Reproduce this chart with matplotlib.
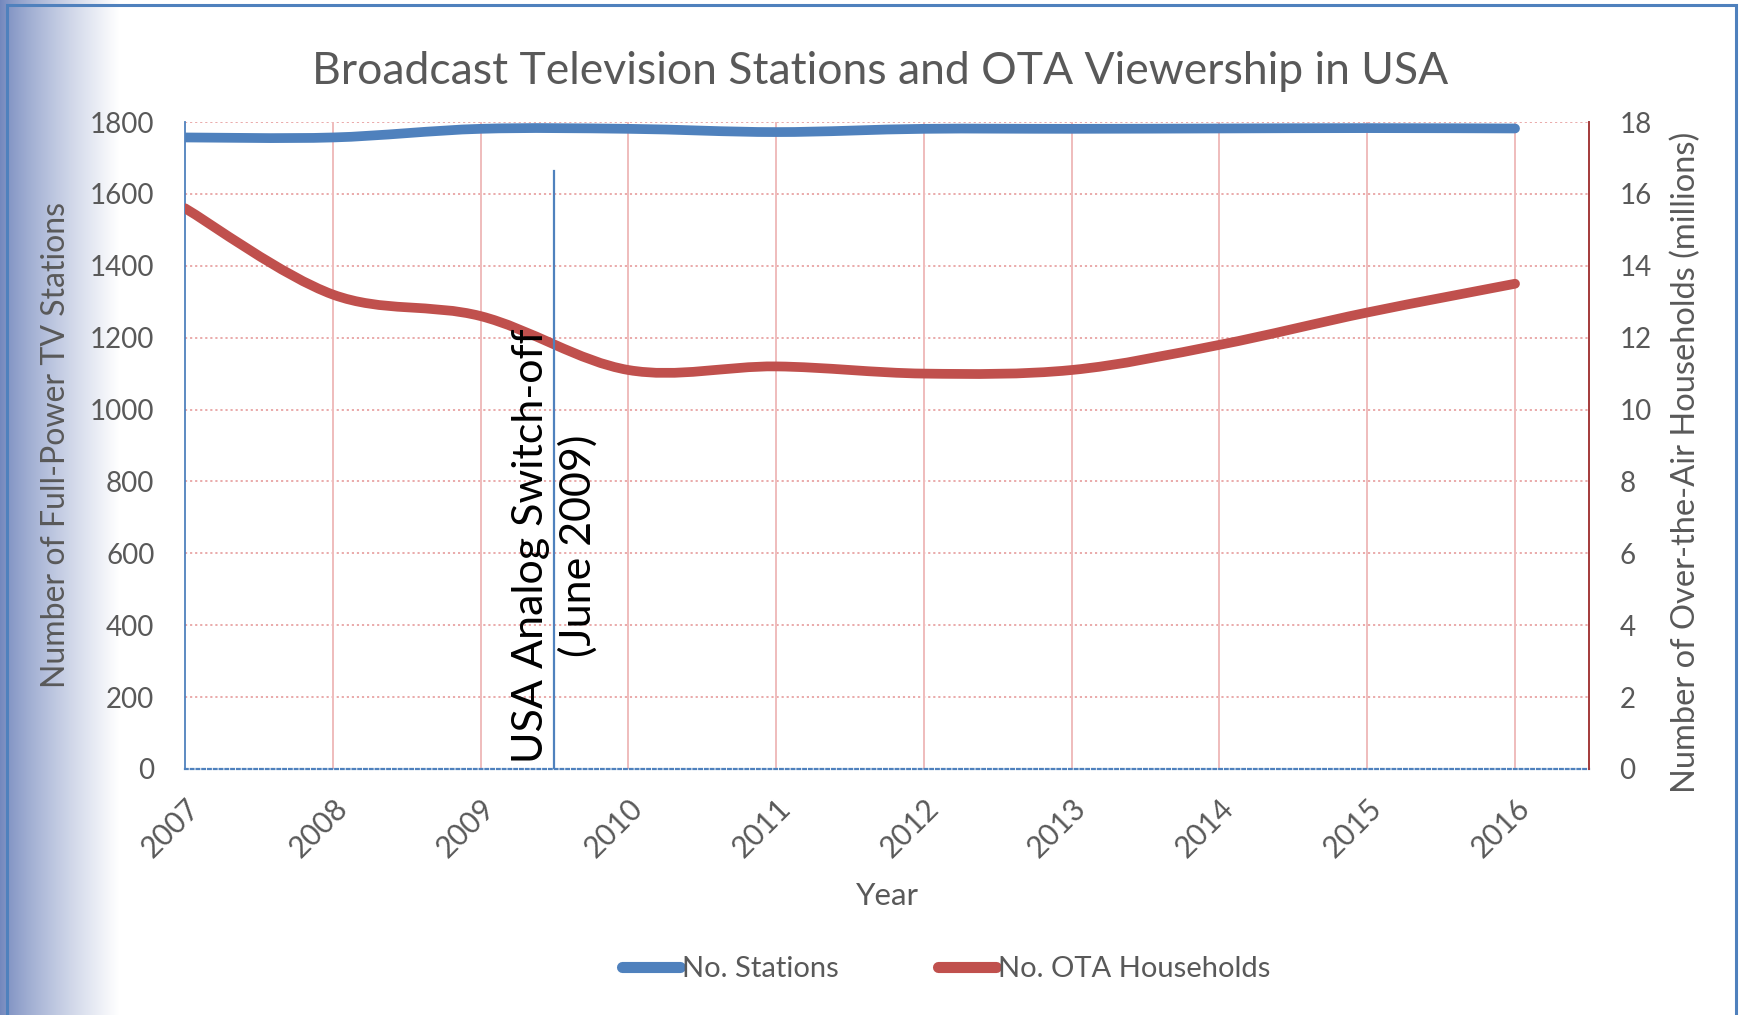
import matplotlib
matplotlib.use("Agg")
import matplotlib.pyplot as plt
import numpy as np
from matplotlib.path import Path
from matplotlib.patches import PathPatch, Rectangle
from matplotlib.lines import Line2D

plt.rcParams['font.family'] = ['Lato', 'DejaVu Sans']

years = [2007, 2008, 2009, 2010, 2011, 2012, 2013, 2014, 2015, 2016]
stations = [1757, 1757, 1781, 1781, 1772, 1781, 1781, 1782, 1783, 1782]
ota_households = [15.6, 13.2, 12.6, 11.1, 11.2, 11.0, 11.1, 11.8, 12.7, 13.5]
switch_off_year = 2009.5
left_ticks = [0, 200, 400, 600, 800, 1000, 1200, 1400, 1600, 1800]
right_ticks = [0, 2, 4, 6, 8, 10, 12, 14, 16, 18]

grey = '#595959'
blue = '#4f81bd'
red = '#c0504d'


def smooth_path(xs, ys):
    # excel-style smoothed line as cubic bezier segments
    p = np.column_stack([xs, ys]).astype(float)
    n = len(p)
    verts = [p[0]]
    codes = [Path.MOVETO]
    for i in range(n - 1):
        prev = p[i - 1] if i > 0 else p[i]
        nxt = p[i + 2] if i + 2 < n else p[i + 1]
        c1 = p[i] + (p[i + 1] - prev) / 6
        c2 = p[i + 1] - (nxt - p[i]) / 6
        verts += [c1, c2, p[i + 1]]
        codes += [Path.CURVE4] * 3
    return Path(verts, codes)


fig = plt.figure(figsize=(17.39, 10.15), dpi=100)

# left gradient strip
bg = fig.add_axes([0, 0, 0.068, 1], zorder=-5)
g = np.linspace(0, 1, 256) ** 0.8
c0 = np.array([0.45, 0.53, 0.74])
img = c0[None, :] * (1 - g[:, None]) + np.ones(3)[None, :] * g[:, None]
bg.imshow(img[None, :, :], aspect='auto', extent=[0, 1, 0, 1])
bg.set_axis_off()

# outer frame
fig.patches.append(Rectangle((0.004, -0.01), 0.994, 1.005, transform=fig.transFigure,
                             fill=False, edgecolor=blue, lw=2.2, zorder=-4))

ax = fig.add_axes([0.1064, 0.2424, 0.8073, 0.6374])
ax2 = ax.twinx()
ax.patch.set_alpha(0)

ax.set_xlim(2007, 2016.5)
ax.set_ylim(0, 1800)
ax2.set_ylim(0, 18)

for y in left_ticks[1:]:
    ax.axhline(y, color='#e8a4a4', lw=1.3, ls=(0, (1.2, 1.6)), zorder=1)
for x in years[1:]:
    ax.axvline(x, color='#efbcbc', lw=1.4, zorder=1)

for s in ['top']:
    ax.spines[s].set_visible(False)
    ax2.spines[s].set_visible(False)
ax.spines['left'].set_color(blue)
ax.spines['left'].set_linewidth(1.3)
ax.spines['bottom'].set_color(blue)
ax.spines['bottom'].set_linewidth(1.6)
ax.spines['bottom'].set_linestyle((0, (1.2, 1.4)))
ax2.spines['left'].set_visible(False)
ax2.spines['bottom'].set_visible(False)
ax2.spines['right'].set_color('#a33a3a')
ax2.spines['right'].set_linewidth(1.4)
ax.spines['right'].set_visible(False)

ax.set_yticks(left_ticks)
ax2.set_yticks(right_ticks)
ax.set_xticks(years)
ax.set_xticklabels([str(y) for y in years], rotation=45, ha='right', va='top',
                   rotation_mode='anchor')
ax.tick_params(axis='y', length=0, labelsize=20, labelcolor=grey, pad=22)
ax.tick_params(axis='x', length=0, labelsize=21.5, labelcolor=grey, pad=18)
ax2.tick_params(axis='y', length=0, labelsize=20, labelcolor=grey, pad=22)

ax.set_xlabel('Year', fontsize=22.5, color=grey, labelpad=14)
ax.set_ylabel('Number of Full-Power TV Stations', fontsize=23, color=grey, labelpad=14)
ax2.set_ylabel('Number of Over-the-Air Households (millions)', fontsize=23.5, color=grey,
               labelpad=14)
ax2.yaxis.label.set_y(0.474)

ax.add_patch(PathPatch(smooth_path(years, stations), fill=False, edgecolor=blue,
                       lw=7, capstyle='round', joinstyle='round', zorder=3))
ax2.add_patch(PathPatch(smooth_path(years, ota_households), fill=False, edgecolor=red,
                        lw=7, capstyle='round', joinstyle='round', zorder=3))

ax2.plot([switch_off_year, switch_off_year], [0, 16.65], color=blue, lw=1.6, zorder=5)
ax2.text(switch_off_year, 6.2, 'USA Analog Switch-off\n(June 2009)', rotation=90,
         fontsize=31, color='black', ha='center', va='center', multialignment='center',
         zorder=6, linespacing=1.25)

fig.suptitle('Broadcast Television Stations and OTA Viewership in USA', x=0.506, y=0.93,
             va='center', fontsize=32, color=grey)

handles = [Line2D([], [], color=blue, lw=8, solid_capstyle='round'),
           Line2D([], [], color=red, lw=8, solid_capstyle='round')]
fig.legend(handles, ['No. Stations', 'No. OTA Households'], loc='center',
           bbox_to_anchor=(0.544, 0.045), ncol=2, frameon=False, fontsize=21,
           handlelength=2.0, handletextpad=0.05, columnspacing=3.4, labelcolor=grey)

fig.savefig('out.png', dpi=100)
